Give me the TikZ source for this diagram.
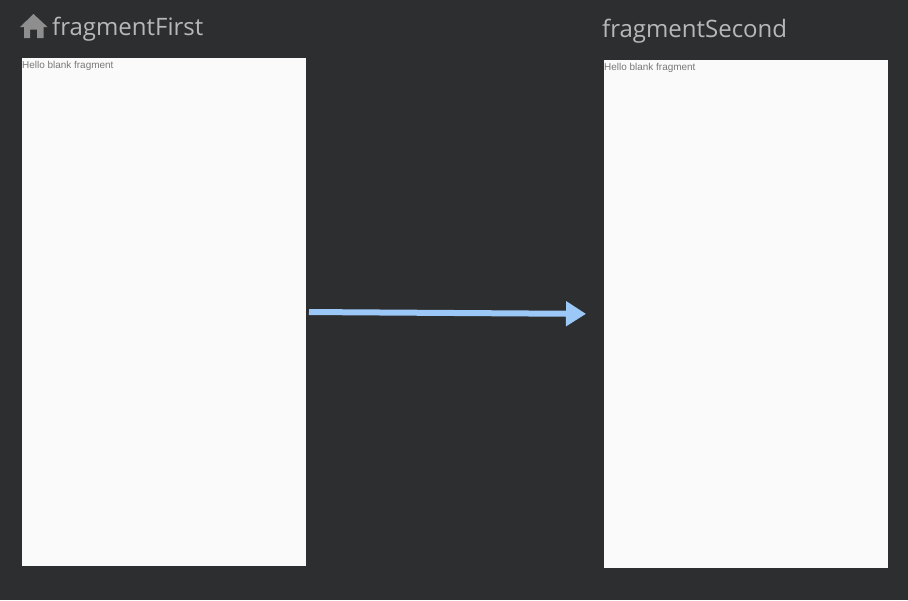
\documentclass[tikz,border=0pt]{standalone}
\usepackage{fontspec}
\setmainfont{Open Sans}
\newfontfamily\hellofont{Liberation Sans}
\usetikzlibrary{arrows.meta}
\definecolor{bgc}{HTML}{2D2E30}
\definecolor{screenc}{HTML}{FAFAFA}
\definecolor{titlec}{HTML}{B8B8B8}
\definecolor{hintc}{HTML}{787878}
\definecolor{arrowc}{HTML}{9CC8F8}
\definecolor{homec}{HTML}{8E8E8E}
\tikzset{
  screenbox/.style={fill=screenc,draw=none,inner sep=0pt,outer sep=0pt,minimum width=284pt,minimum height=508pt,anchor=north west},
  titletext/.style={text=titlec,inner sep=0pt,anchor=base west,font=\fontsize{24}{28}\selectfont},
  hinttext/.style={text=hintc,inner sep=0pt,anchor=base west,font=\hellofont\fontsize{9.95}{12}\selectfont},
  navarrow/.style={draw=arrowc,line width=6pt,-{Triangle[length=20pt,width=24pt,fill=arrowc]},shorten <=3pt,shorten >=18pt}
}
\begin{document}
\begin{tikzpicture}[x=1pt,y=-1pt]
\useasboundingbox (0,0) rectangle (908,600);
\fill[bgc] (0,0) rectangle (908,600);
\node[screenbox] (first) at (22,58) {};
\node[screenbox] (second) at (604,60) {};
\node[titletext] (firstTitle) at (52,35.6) {fragmentFirst};
\node[titletext] (secondTitle) at (602,37.6) {fragmentSecond};
\node[hinttext] (firstHint) at (22,68.4) {Hello blank fragment};
\node[hinttext] (secondHint) at (604,70.4) {Hello blank fragment};
\fill[homec,even odd rule] (33.5,14) -- (47.5,27) -- (43.5,27) -- (43.5,38) -- (37,38) -- (37,29.5) -- (30,29.5) -- (30,38) -- (24,38) -- (24,27) -- (20,27) -- cycle;
\draw[navarrow] (first.east) -- (second.west);
\end{tikzpicture}
\end{document}
